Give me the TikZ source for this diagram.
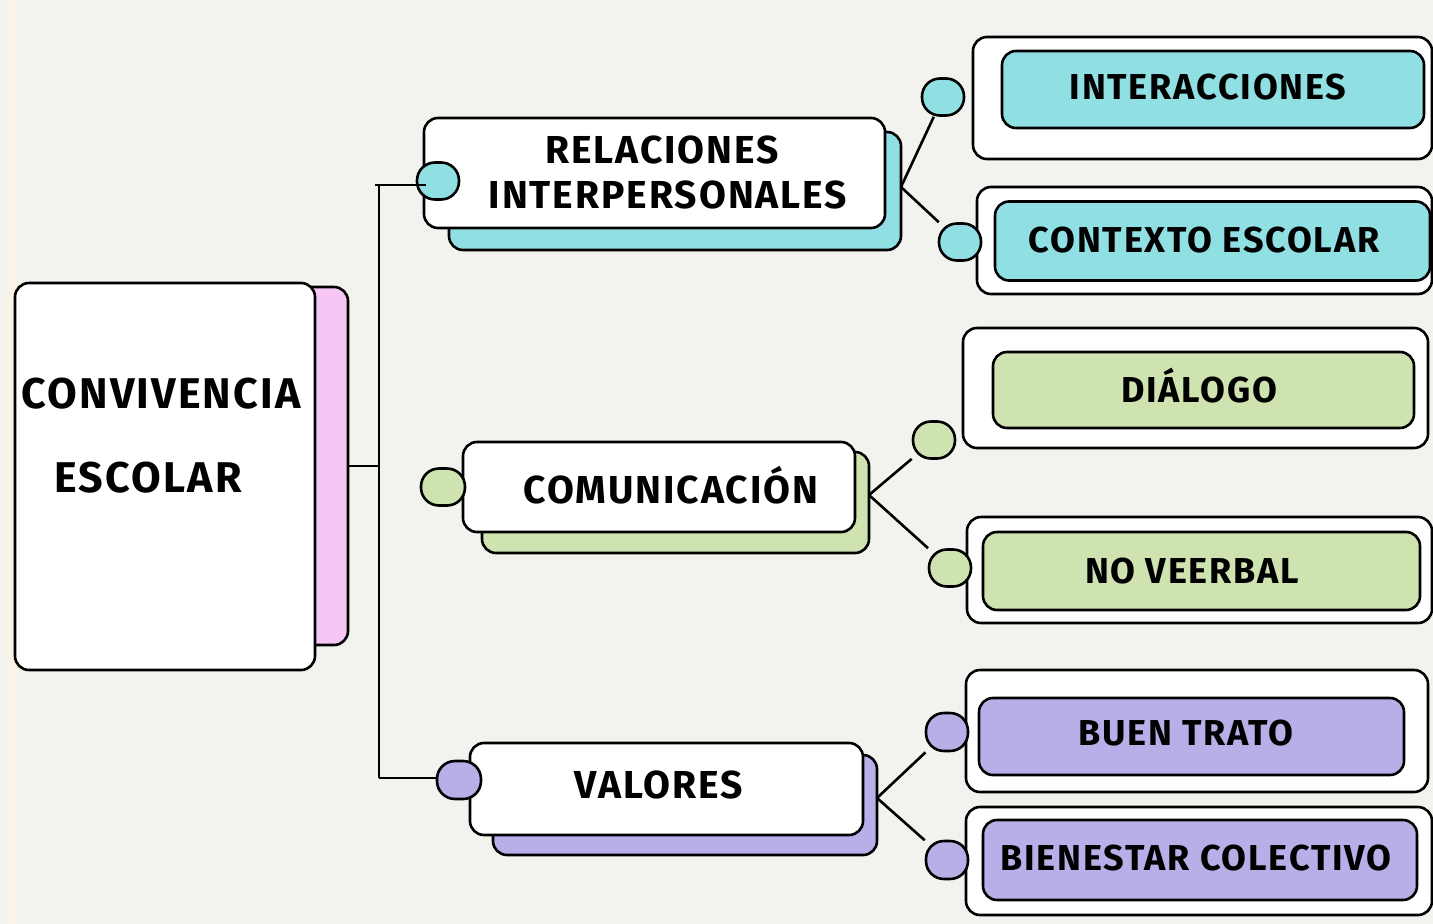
\documentclass[tikz,border=0pt]{standalone}
\usepackage{fontspec}
\setmainfont{Fira Sans}[LetterSpace=5]
\usetikzlibrary{calc}
\definecolor{bgc}{HTML}{F2F2EF}
\definecolor{creamc}{HTML}{FBF3E6}
\definecolor{tealc}{HTML}{8FDFE3}
\definecolor{greenc}{HTML}{CFE3B1}
\definecolor{purplec}{HTML}{B7B0E8}
\definecolor{pinkc}{HTML}{F6C6F4}
\begin{document}
\begin{tikzpicture}[x=1pt,y=-1pt,
  box/.style={draw=black, line width=2.6pt, rounded corners=14pt, inner sep=0pt},
  card/.style={box, fill=white},
  dot/.style={draw=black, line width=2.6pt, rounded corners=18pt, inner sep=0pt, minimum width=42pt, minimum height=37pt},
  leaf/.style={inner sep=0pt, font=\fontsize{36}{44}\selectfont\bfseries},
  mid/.style={inner sep=0pt, font=\fontsize{39}{44}\selectfont\bfseries},
  big/.style={inner sep=0pt, font=\fontsize{43}{50}\selectfont\bfseries},
  link/.style={draw=black, line width=2.6pt}]
\useasboundingbox (0,0) rectangle (1433,924);
\fill[bgc] (0,0) rectangle (1433,924);
\fill[creamc] (7,0) rectangle (18,924);

% main concept
\node[box, fill=pinkc, minimum width=58pt, minimum height=358pt] (mainsh) at (319,466) {};
\node[card, minimum width=300pt, minimum height=387pt] (main) at (165,476.5) {};
\node[big] (maint1) at (161,394) {CONVIVENCIA};
\node[big] (maint2) at (148,478) {ESCOLAR};

% trunk
\coordinate (jt) at (379,185);
\coordinate (jb) at (379,778);
\coordinate (jm) at (379,466);

% relaciones
\node[box, fill=tealc, minimum width=452pt, minimum height=118pt] (rs) at (675,191) {};
\node[card, minimum width=461pt, minimum height=110pt] (rel) at (654.5,173) {};
\node[mid] (relt1) at (662,150) {RELACIONES};
\node[mid] (relt2) at (668,195) {INTERPERSONALES};
\node[dot, fill=tealc] (rc) at (438,181) {};
\coordinate (jr) at (901,187);

\node[card, minimum width=459pt, minimum height=122pt] (io) at (1202.5,98) {};
\node[box, fill=tealc, minimum width=422pt, minimum height=77pt] (ii) at (1213,89.5) {};
\node[leaf] (iit) at (1208,87) {INTERACCIONES};
\node[dot, fill=tealc] (ic) at (943,97) {};

\node[card, minimum width=455pt, minimum height=107pt] (co) at (1204.5,240.5) {};
\node[box, fill=tealc, minimum width=435pt, minimum height=79pt] (ci) at (1212.5,241) {};
\node[leaf] (cit) at (1204,240) {CONTEXTO ESCOLAR};
\node[dot, fill=tealc] (cc) at (960,242) {};

% comunicacion
\node[box, fill=greenc, minimum width=387pt, minimum height=101pt] (cs) at (675.5,502.5) {};
\node[card, minimum width=392pt, minimum height=90pt] (com) at (659,487) {};
\node[mid] (comt) at (671,485) {COMUNICACIÓN};
\node[dot, fill=greenc, minimum width=44pt] (cmc) at (443,487) {};
\coordinate (jc) at (869,495);

\node[card, minimum width=465pt, minimum height=120pt] (dout) at (1195.5,388) {};
\node[box, fill=greenc, minimum width=421pt, minimum height=76pt] (di) at (1203.5,390) {};
\node[leaf] (dit) at (1199,386) {DIÁLOGO};
\node[dot, fill=greenc] (dc) at (934,440) {};

\node[card, minimum width=465pt, minimum height=106pt] (nout) at (1199.5,570) {};
\node[box, fill=greenc, minimum width=437pt, minimum height=78pt] (ni) at (1201.5,571) {};
\node[leaf] (nit) at (1192,571) {NO VEERBAL};
\node[dot, fill=greenc] (nc) at (950,568) {};

% valores
\node[box, fill=purplec, minimum width=384pt, minimum height=100pt] (vs) at (685,805) {};
\node[card, minimum width=393pt, minimum height=92pt] (val) at (666.5,789) {};
\node[mid] (valt) at (659,785) {VALORES};
\node[dot, fill=purplec, minimum width=44pt, minimum height=38pt] (vc) at (459,780) {};
\coordinate (jv) at (877,798);

\node[card, minimum width=462pt, minimum height=122pt] (bout) at (1197,731) {};
\node[box, fill=purplec, minimum width=425pt, minimum height=77pt] (bi) at (1191.5,736.5) {};
\node[leaf] (bit) at (1186,733) {BUEN TRATO};
\node[dot, fill=purplec, minimum height=38pt] (bc) at (947,732) {};

\node[card, minimum width=466pt, minimum height=108pt] (beo) at (1199,861) {};
\node[box, fill=purplec, minimum width=434pt, minimum height=80pt] (bei) at (1200,860) {};
\node[leaf] (beit) at (1196,858) {BIENESTAR COLECTIVO};
\node[dot, fill=purplec, minimum height=38pt] (bec) at (947,860) {};

% connectors
\draw[link] (mainsh.east |- jm) -- (jm);
\draw[link] (jt) -- (jb);
\draw[link] ($(jt)+(-4,0)$) -- ($(rc.west |- jt)+(10,0)$);
\draw[link] (jb) -- ($(vc.west |- jb)+(2,0)$);
\draw[link] (jr) -- (ic);
\draw[link] (jr) -- (cc);
\draw[link] (jc) -- (dc);
\draw[link] (jc) -- (nc);
\draw[link] (jv) -- (bc);
\draw[link] (jv) -- (bec);
\end{tikzpicture}
\end{document}
